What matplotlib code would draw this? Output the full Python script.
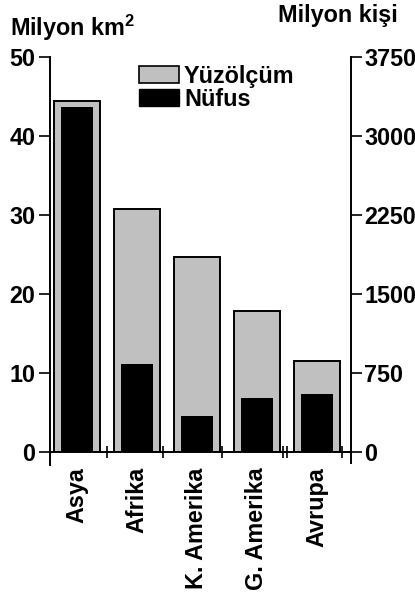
import numpy as np
import matplotlib
matplotlib.use('Agg')
import matplotlib.pyplot as plt
from matplotlib.patches import Patch

plt.rcParams['font.family'] = 'Liberation Sans'
plt.rcParams['font.weight'] = 'bold'
plt.rcParams['mathtext.fontset'] = 'custom'
plt.rcParams['mathtext.rm'] = 'Liberation Sans:bold'
plt.rcParams['mathtext.bf'] = 'Liberation Sans:bold'

# data
kitalar = ['Asya', 'Afrika', 'K. Amerika', 'G. Amerika', 'Avrupa']
yuzolcum = [44.4, 30.8, 24.7, 17.8, 11.5]      # milyon km2
nufus = [3280, 835, 345, 510, 550]             # milyon kisi
sol_ticks = [0, 10, 20, 30, 40, 50]
sag_ticks = [0, 750, 1500, 2250, 3000, 3750]

gri = '#c0c0c0'
fs = 16.8

fig = plt.figure(figsize=(4.15, 5.94), dpi=100)
ax = fig.add_axes([50/415, 1-452/594, 301/415, 395/594])
x = np.arange(len(kitalar))

ax.bar(x, yuzolcum, width=0.77, color=gri, edgecolor='black', linewidth=1.4, zorder=2)
ax.set_xlim(-0.45, 4.57)
ax.set_ylim(0, 50)
ax.set_yticks(sol_ticks)

ax2 = ax.twinx()
ax2.bar(x, nufus, width=0.53, color='black', zorder=3)
ax2.set_ylim(0, 3750)
ax2.set_yticks(sag_ticks)

for a in (ax, ax2):
    a.spines['top'].set_visible(False)
    for s in a.spines.values():
        s.set_linewidth(1.4)
ax.spines['right'].set_visible(False)
ax2.spines['left'].set_visible(False)
ax2.spines['bottom'].set_visible(False)
ax.spines['left'].set_bounds(-1.7, 50)
ax2.spines['right'].set_bounds(-1.4 * 75, 3750)

ax.tick_params(axis='y', length=8, width=1.2, pad=2.5, labelsize=fs)
ax2.tick_params(axis='y', length=8, width=1.2, pad=1.5, labelsize=fs)

ax.set_xticks(x)
ax.set_xticklabels(kitalar, rotation=90, fontsize=fs, va='top', ha='center')
ax.tick_params(axis='x', which='major', length=0, pad=11)
ax.set_xticks([0.5, 1.44, 2.42, 3.43, 3.51, 4.42], minor=True)
ax.tick_params(axis='x', which='minor', direction='inout', length=8, width=1.2)

fig.text(10/415, 1-36/594, r'Milyon km$^{2}$', fontsize=fs, va='baseline', ha='left')
fig.text(398/415, 1-22/594, 'Milyon kişi', fontsize=fs, va='baseline', ha='right')

handles = [Patch(facecolor=gri, edgecolor='black', linewidth=1.2, label='Yüzölçüm'),
           Patch(facecolor='black', edgecolor='black', label='Nüfus')]
ax.legend(handles=handles, loc='upper left', bbox_to_anchor=(0.295, 0.98),
          frameon=False, fontsize=fs, handlelength=1.74, handleheight=0.72,
          handletextpad=0.2, labelspacing=0.0, borderpad=0, borderaxespad=0)

fig.savefig('out.png', dpi=100)
